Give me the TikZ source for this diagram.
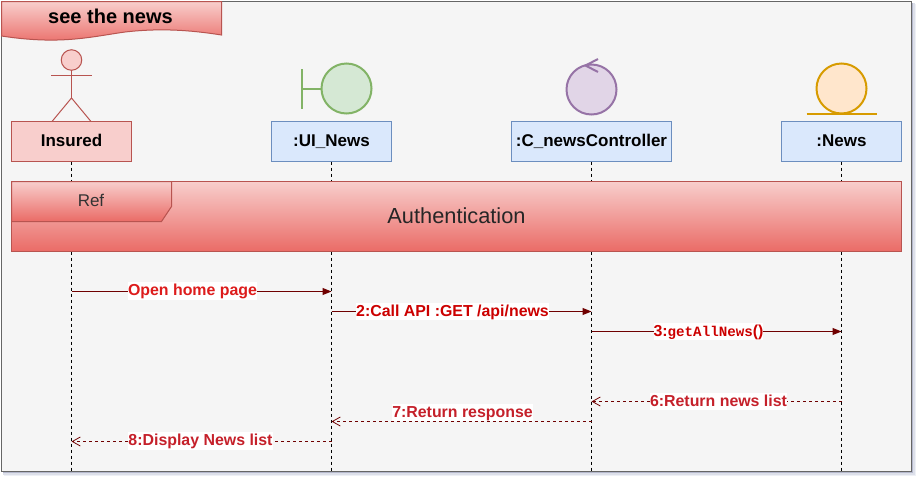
\documentclass[tikz,border=0pt]{standalone}
\usepackage{fontspec}
\setmainfont{Liberation Sans}
\newfontfamily\codefont{Liberation Mono}
\usetikzlibrary{arrows.meta}
\definecolor{grA}{HTML}{F8CECC}
\definecolor{grB}{HTML}{EA6B66}
\definecolor{redL}{HTML}{B85450}
\definecolor{blueF}{HTML}{DAE8FC}
\definecolor{blueL}{HTML}{6C8EBF}
\definecolor{msgL}{HTML}{6F0000}
\definecolor{labA}{HTML}{DD1C1C}
\definecolor{labB}{HTML}{CC0000}
\definecolor{labC}{HTML}{C5202A}
\definecolor{grnL}{HTML}{82B366}
\definecolor{grnF}{HTML}{D5E8D4}
\definecolor{purL}{HTML}{9673A6}
\definecolor{purF}{HTML}{E1D5E7}
\definecolor{orgL}{HTML}{D79B00}
\definecolor{orgF}{HTML}{FFE6CC}
\definecolor{paper}{HTML}{F5F5F5}
\definecolor{rim}{HTML}{666666}
\definecolor{shA}{HTML}{EEF0F6}
\definecolor{shB}{HTML}{DDE0EA}
\definecolor{shC}{HTML}{B4B8CC}
\tikzset{
  objbox/.style={rectangle,draw=blueL,fill=blueF,line width=1pt,minimum width=120pt,minimum height=40pt,inner sep=0pt,outer sep=0pt,text height=12.3pt,text depth=2.2pt,font=\fontsize{17}{20}\selectfont\bfseries},
  wideobj/.style={objbox,minimum width=160pt},
  actorbox/.style={objbox,draw=redL,fill=grA},
  lifeline/.style={draw=black,line width=1pt,dash pattern=on 3pt off 3pt},
  grad/.style={draw=redL,line width=1pt,top color=grA,bottom color=grB},
  sync/.style={draw=msgL,line width=1pt,-{Triangle[length=9pt,width=7pt,fill=msgL]}},
  ret/.style={draw=msgL,line width=1pt,dash pattern=on 3pt off 3pt,-{Straight Barb[length=8pt,width=9pt,line width=.8pt]}},
  msglabel/.style={fill=white,inner xsep=0pt,inner ysep=0pt,text height=13.5pt,text depth=4pt,font=\fontsize{15.9}{18}\selectfont\bfseries},
  icon/.style={circle,line width=2pt,minimum size=50pt,inner sep=0pt,outer sep=0pt}
}
\begin{document}
\begin{tikzpicture}[x=1pt,y=-1pt]
\useasboundingbox (0,0) rectangle (919,480);
% frame with soft shadow
\fill[shA] (4,4) rectangle (916,476);
\fill[shB] (3,3) rectangle (914.5,474.5);
\fill[shC] (2.5,2.5) rectangle (913,473);
\draw[draw=rim,fill=paper,line width=1pt] (1.5,1.5) rectangle (911.5,471.5);
% title
\path[grad] (1.5,1.5) -- (221.5,1.5) -- (221.5,35)
  .. controls (190,30) and (160,28) .. (125,32)
  .. controls (90,37) and (60,45) .. (1.5,36) -- cycle;
\node[font=\fontsize{20}{22}\selectfont\bfseries] (title) at (110.5,16) {see the news};
% object boxes
\node[actorbox] (ins) at (71.5,141.5) {Insured};
\node[objbox] (ui) at (331.5,141.5) {:UI\_News};
\node[wideobj] (ctl) at (591.5,141.5) {:C\_newsController};
\node[objbox] (news) at (841.5,141.5) {:News};
% lifelines
\coordinate (endI) at (71.5,471.5);
\coordinate (endU) at (331.5,471.5);
\coordinate (endC) at (591.5,471.5);
\coordinate (endN) at (841.5,471.5);
\draw[lifeline] (ins.south) -- (endI);
\draw[lifeline] (ui.south) -- (endU);
\draw[lifeline] (ctl.south) -- (endC);
\draw[lifeline] (news.south) -- (endN);
% actor
\node[circle,draw=redL,fill=grA,line width=1pt,minimum size=20.5pt,inner sep=0pt,outer sep=0pt] (head) at (71.5,60) {};
\draw[redL,line width=1pt] (51,75) -- (92,75);
\coordinate (hip) at (71.5,98);
\draw[redL,line width=1pt] (head.south) -- (hip);
\draw[redL,line width=1pt] (52,121.5) -- (hip) -- (91,121.5);
% boundary
\node[icon,draw=grnL,fill=grnF] (bnd) at (346.5,88.5) {};
\coordinate (bndbar) at (301.5,88.5);
\draw[grnL,line width=2pt] (bnd.west) -- (bndbar);
\draw[grnL,line width=2pt] (301.5,69) -- (301.5,108.5);
% control
\node[icon,draw=purL,fill=purF] (ctr) at (591.5,89.5) {};
\draw[purL,line width=2pt] (598,59) -- (585.5,65.5) -- (598,72);
% entity
\node[icon,draw=orgL,fill=orgF] (ent) at (841.5,88.5) {};
\draw[orgL,line width=2pt] (806.5,113.5) -- (876.5,113.5);
% ref frame
\node[rectangle,grad,minimum width=890pt,minimum height=70pt,inner sep=0pt,outer sep=0pt,text height=15.6pt,text depth=2pt,text=black!85,font=\fontsize{21.8}{24}\selectfont] (refbox) at (456.5,216.5) {Authentication};
\path[grad] (11.5,181.5) -- (171.5,181.5) -- (171.5,206.5) -- (161.5,221.5) -- (11.5,221.5) -- cycle;
\node[text=black!80,font=\fontsize{17}{19}\selectfont] (reflab) at (91,200) {Ref};
% messages
\coordinate (m1a) at (71.5,291.5);  \coordinate (m1b) at (331.5,291.5);
\coordinate (m2a) at (331.5,311.5); \coordinate (m2b) at (591.5,311.5);
\coordinate (m3a) at (591.5,331.5); \coordinate (m3b) at (841.5,331.5);
\coordinate (m6a) at (841.5,401.5); \coordinate (m6b) at (591.5,401.5);
\coordinate (m7a) at (591.5,421.5); \coordinate (m7b) at (331.5,421.5);
\coordinate (m8a) at (331.5,441.5); \coordinate (m8b) at (71.5,441.5);
\draw[sync] (m1a) -- (m1b);
\draw[sync] (m2a) -- (m2b);
\draw[sync] (m3a) -- (m3b);
\draw[ret] (m6a) -- (m6b);
\draw[ret] (m7a) -- (m7b);
\draw[ret] (m8a) -- (m8b);
\node[msglabel,text=labA] (l1) at (192.5,291) {Open home page};
\node[msglabel,text=labB] (l2) at (452.5,311.5) {2:Call API :GET /api/news};
\node[msglabel,text=labB] (l3) at (708.5,331.5) {3:{\codefont\fontsize{14.2}{18}\selectfont getAllNews}()};
\node[msglabel,text=labC] (l6) at (718.5,401.5) {6:Return news list};
\node[msglabel,text=labC] (l7) at (462.5,412.7) {7:Return response};
\node[msglabel,text=labC] (l8) at (200.5,441) {8:Display News list};
\end{tikzpicture}
\end{document}
